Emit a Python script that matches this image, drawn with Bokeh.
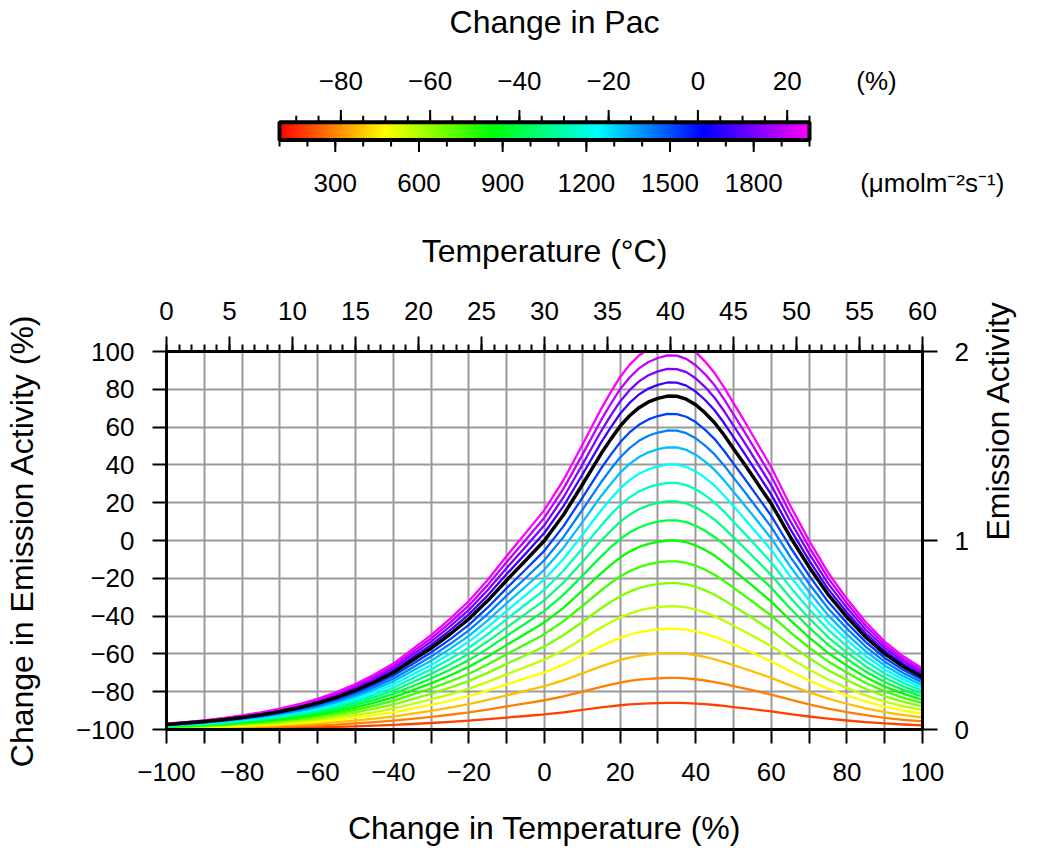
import numpy as np
import colorsys
from bokeh.plotting import figure
from bokeh.models import LinearAxis, Range1d, FixedTicker
from bokeh.embed import file_html
from bokeh.resources import INLINE

# ---------------- data ----------------
# change in temperature (%) relative to 30 degC (0 degC = -100 %, 60 degC = +100 %)
temp_change_pct = [-100, -95, -90, -85, -80, -75, -70, -65, -60, -55, -50,
                   -45, -40, -35, -30, -25, -20, -15, -10, -5, 0,
                   5, 10, 15, 17.5, 20, 22.5, 25, 27.5, 30, 32.5, 35, 37.5,
                   40, 42.5, 45, 47.5, 50, 52.5, 55,
                   60, 65, 70, 75, 80, 85, 90, 95, 100]
# change in emission activity (%) of the reference curve (PAR = 1600, black)
ref_change_pct = [-97.3, -96.6, -95.8, -94.8, -93.6, -92.2, -90.5, -88.5, -86.0, -83.0, -79.3,
                  -75.0, -70.0, -63.5, -57.0, -49.6, -41.5, -31.8, -21.0, -10.6, 0.0,
                  13.5, 29.5, 46.0, 53.5, 60.5, 66.0, 70.3, 73.3, 75.2, 76.4, 76.3, 74.8,
                  71.8, 67.5, 62.3, 55.8, 48.6, 41.5, 34.2,
                  19.4, 2.0, -14.0, -28.5, -40.5, -51.2, -60.0, -66.8, -72.3]
# PAR levels (umol m-2 s-1) and peak emission activity of each curve
par_levels = [100, 200, 300, 400, 500, 600, 700, 800, 900, 1000,
              1100, 1200, 1300, 1400, 1500, 1600, 1700, 1800, 1900, 2000]
peak_activity = [0.141, 0.273, 0.404, 0.533, 0.652, 0.775, 0.890, 1.000, 1.107, 1.207,
                 1.305, 1.402, 1.493, 1.582, 1.670, 1.764, 1.836, 1.908, 1.979, 2.050]
ref_par = 1600
# colour bar / tick labels
par_ticks = [300, 600, 900, 1200, 1500, 1800]
par_minor = list(range(100, 2001, 100))
pac_ticks = [-80, -60, -40, -20, 0, 20]
pac_minor = list(range(-90, 26, 5))
temp_ticks = list(range(0, 61, 5))
chg_ticks = list(range(-100, 101, 20))
act_ticks = [0, 1, 2]
pac_unit = "(%)"
par_unit = "(\u03bcmolm\u207b\u00b2s\u207b\u00b9)"
cbar_title = "Change in Pac"

FONT = "Liberation Sans"
TICK_FS = "26px"
TITLE_FS = "32px"
MINUS = "\u2212"


def lbl(v):
    return (MINUS + str(abs(v))) if v < 0 else str(v)


def hue_rgb(h):
    r, g, b = colorsys.hsv_to_rgb((h % 360) / 360.0, 1, 1)
    return "#%02x%02x%02x" % (int(round(r * 255)), int(round(g * 255)), int(round(b * 255)))


def style_axis(ax, major_out=14, minor_out=7, standoff=12, line_w=3):
    ax.major_label_text_font = FONT
    ax.major_label_text_font_size = TICK_FS
    ax.major_label_text_color = "black"
    ax.major_tick_out = major_out
    ax.major_tick_in = 0
    ax.minor_tick_out = minor_out
    ax.minor_tick_in = 0
    ax.major_tick_line_width = 2
    ax.minor_tick_line_width = 2
    ax.major_tick_line_color = "black"
    ax.minor_tick_line_color = "black"
    ax.axis_line_width = line_w
    ax.axis_line_color = "black"
    ax.major_label_standoff = standoff
    ax.axis_label_text_font = FONT
    ax.axis_label_text_font_size = TITLE_FS
    ax.axis_label_text_font_style = "normal"
    ax.axis_label_text_color = "black"


def label_only(ax):
    ax.axis_line_color = None
    ax.major_tick_line_color = None
    ax.minor_tick_line_color = None


W = 1037
# ---------------- colour bar figure ----------------
CB_H = 200
BAR_L, BAR_R = 279, 809          # page px of the bar ends
FR_L, FR_R = 268, 962            # page px of the frame
FR_T, FR_B = 105, 162            # page px of the frame (top / bottom)
PPU = (BAR_R - BAR_L) / 1900.0   # px per PAR unit
x0 = 100 - (BAR_L - FR_L) / PPU
x1 = 100 + (FR_R - BAR_L) / PPU
# y in pixels above the frame bottom
BAR_Y0, BAR_Y1 = FR_B - 144, FR_B - 122
cb = figure(width=W, height=CB_H, x_range=Range1d(x0, x1), y_range=Range1d(0, FR_B - FR_T),
            output_backend="svg", toolbar_location=None, title=None,
            min_border_left=FR_L, min_border_right=W - FR_R,
            min_border_top=FR_T, min_border_bottom=CB_H - FR_B)
cb.grid.visible = False
cb.yaxis.visible = False
cb.xaxis.visible = False
cb.outline_line_color = None
cb.background_fill_color = "white"
cb.border_fill_color = "white"

N = 380
img = np.zeros((1, N), dtype=np.uint32)
view = img.view(dtype=np.uint8).reshape((1, N, 4))
for i in range(N):
    par = 100 + (i + 0.5) * 1900 / N
    r, g, b = colorsys.hsv_to_rgb(((par - 100) / 1900 * 300) / 360.0, 1, 1)
    view[0, i, 0] = int(r * 255)
    view[0, i, 1] = int(g * 255)
    view[0, i, 2] = int(b * 255)
    view[0, i, 3] = 255
cb.image_rgba(image=[img], x=100, y=BAR_Y0, dw=1900, dh=BAR_Y1 - BAR_Y0)
cb.quad(left=[100], right=[2000], bottom=[BAR_Y0], top=[BAR_Y1], fill_color=None,
        line_color="black", line_width=4)

pac0 = (x0 / ref_par - 1) * 100
pac1 = (x1 / ref_par - 1) * 100
cb.extra_x_ranges = {"pac": Range1d(pac0, pac1)}

# tick marks of the colour bar (bottom: PAR, top: change in Pac)
cb.segment(x0=par_minor, y0=[BAR_Y0] * len(par_minor), x1=par_minor,
           y1=[BAR_Y0 - 8] * len(par_minor), line_color="black", line_width=2)
cb.segment(x0=par_ticks, y0=[BAR_Y0] * len(par_ticks), x1=par_ticks,
           y1=[BAR_Y0 - 15] * len(par_ticks), line_color="black", line_width=2)
cb.segment(x0=pac_minor, y0=[BAR_Y1] * len(pac_minor), x1=pac_minor,
           y1=[BAR_Y1 + 8] * len(pac_minor), line_color="black", line_width=2,
           x_range_name="pac")
cb.segment(x0=pac_ticks, y0=[BAR_Y1] * len(pac_ticks), x1=pac_ticks,
           y1=[BAR_Y1 + 15] * len(pac_ticks), line_color="black", line_width=2,
           x_range_name="pac")

# tick labels (bottom)
unit_x = 2440
b2 = LinearAxis(ticker=FixedTicker(ticks=par_ticks + [unit_x], minor_ticks=[]))
style_axis(b2, 0, 0, 13, 0)
label_only(b2)
ov = {t: lbl(t) for t in par_ticks}
ov[unit_x] = par_unit
b2.major_label_overrides = ov
cb.add_layout(b2, "below")

# tick labels (top)
pct_x = 40
t2 = LinearAxis(x_range_name="pac", ticker=FixedTicker(ticks=pac_ticks + [pct_x], minor_ticks=[]))
style_axis(t2, 0, 0, 13, 0)
label_only(t2)
ov2 = {t: lbl(t) for t in pac_ticks}
ov2[pct_x] = pac_unit
t2.major_label_overrides = ov2
cb.add_layout(t2, "above")

# colour-bar title, placed as a single label row above the tick labels
title_x = 100 + (554 - BAR_L) / PPU
t3 = LinearAxis(ticker=FixedTicker(ticks=[title_x], minor_ticks=[]))
style_axis(t3, 0, 0, 23, 0)
label_only(t3)
t3.major_label_text_font_size = TITLE_FS
t3.major_label_overrides = {title_x: cbar_title}
cb.add_layout(t3, "above")

# ---------------- main figure ----------------
MH = 648
p = figure(width=W, height=MH, x_range=Range1d(-100, 100), y_range=Range1d(-100, 100),
           output_backend="svg", toolbar_location=None,
           min_border_left=165, min_border_right=W - 165 - 757, min_border_top=351 - CB_H,
           min_border_bottom=MH - (351 - CB_H) - 378)
p.outline_line_color = "black"
p.outline_line_width = 3
p.background_fill_color = "white"
p.border_fill_color = "white"

p.xgrid.ticker = FixedTicker(ticks=list(range(-100, 101, 10)))
p.ygrid.ticker = FixedTicker(ticks=chg_ticks)
p.grid.grid_line_color = "#9a9a9a"
p.grid.grid_line_width = 2

xa = p.xaxis[0]
xa.ticker = FixedTicker(ticks=chg_ticks, minor_ticks=list(range(-90, 100, 20)))
xa.major_label_overrides = {t: lbl(t) for t in chg_ticks}
style_axis(xa, 14, 14, 19)
xa.axis_label = "Change in Temperature (%)"
xa.axis_label_standoff = 26

ya = p.yaxis[0]
ya.ticker = FixedTicker(ticks=chg_ticks, minor_ticks=[])
ya.major_label_overrides = {t: lbl(t) for t in chg_ticks}
style_axis(ya, 14, 0, 18)
ya.axis_label = "Change in Emission Activity (%)"
ya.axis_label_standoff = 33

p.extra_x_ranges = {"temp": Range1d(0, 60)}
p.extra_y_ranges = {"act": Range1d(0, 2)}
ta = LinearAxis(x_range_name="temp",
                ticker=FixedTicker(ticks=temp_ticks, minor_ticks=list(range(0, 61, 1))))
style_axis(ta, 15, 7, 17)
ta.axis_label = "Temperature (\u00b0C)"
ta.axis_label_standoff = 30
p.add_layout(ta, "above")
ra = LinearAxis(y_range_name="act", ticker=FixedTicker(ticks=act_ticks, minor_ticks=[]))
style_axis(ra, 15, 0, 17)
ra.axis_label = "Emission Activity"
ra.axis_label_standoff = 26
ra.axis_label_orientation = np.pi / 2
p.add_layout(ra, "right")

ref_act = [1 + v / 100.0 for v in ref_change_pct]
ref_peak = peak_activity[par_levels.index(ref_par)]
xs, ys, cols = [], [], []
for par, pk in zip(par_levels, peak_activity):
    if par == ref_par:
        continue
    xs.append(temp_change_pct)
    ys.append([(a * pk / ref_peak - 1) * 100 for a in ref_act])
    cols.append(hue_rgb(0.15 * par))
p.multi_line(xs=xs, ys=ys, line_color=cols, line_width=2.3, line_join="round")
p.line(temp_change_pct, ref_change_pct, line_color="black", line_width=3.5, line_join="round")

open("out.html", "w").write(file_html([cb, p], INLINE))
